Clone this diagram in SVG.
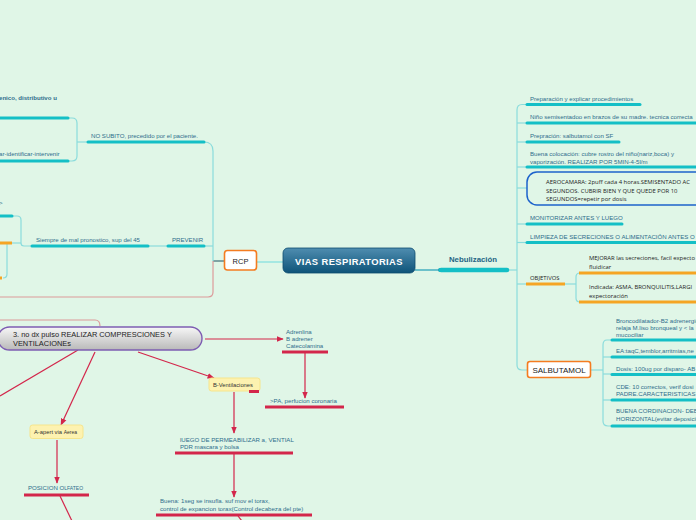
<svg xmlns="http://www.w3.org/2000/svg" width="696" height="520" viewBox="0 0 696 520">
<defs>
<linearGradient id="gCentral" x1="0" y1="0" x2="0" y2="1"><stop offset="0" stop-color="#4f8db0"/><stop offset="1" stop-color="#0e5479"/></linearGradient>
<linearGradient id="gPill" x1="0" y1="0" x2="0" y2="1"><stop offset="0" stop-color="#f7f7f7"/><stop offset="1" stop-color="#b9b9b9"/></linearGradient>
<marker id="arr" viewBox="0 0 10 10" refX="9" refY="5" markerWidth="6" markerHeight="6" orient="auto"><path d="M0,1 L10,5 L0,9 z" fill="#d3264b"/></marker>
<style>
.t{font-family:"Liberation Sans",Arial,sans-serif;font-size:6.1px;fill:#2f6d8c}
.tc{font-family:"Open Sans","Liberation Sans",sans-serif;font-size:5.9px;fill:#222}
.ul{stroke:#14bfc6;stroke-width:3;stroke-linecap:round;fill:none}
.uo{stroke:#f5a524;stroke-width:3;fill:none}
.ur{stroke:#d3264b;stroke-width:3;fill:none}
.c{stroke:#8adcdc;stroke-width:1.2;fill:none}
.cr{stroke:#d3264b;stroke-width:1.2;fill:none;marker-end:url(#arr)}
.crn{stroke:#d3264b;stroke-width:1.2;fill:none}
.cp{stroke:#dc9a9a;stroke-width:1.2;fill:none}
.yb{fill:#fdf2b0;stroke:#f6e58c;stroke-width:1}
</style>
</defs>
<rect x="0" y="0" width="696" height="520" fill="#e0f6e7"/>

<g id="connectors">
<line x1="257" y1="262" x2="283" y2="262" stroke="#a6e8e2" stroke-width="2"/>
<line x1="213" y1="261" x2="224" y2="261" stroke="#7fa3a3" stroke-width="2"/>
<path class="c" d="M204,142 Q213,142 213,151 V261"/>
<line class="c" x1="204" y1="246" x2="213" y2="246"/>
<path class="cp" d="M213,261 V292 Q213,297 208,297 H0"/>
<line class="c" x1="148" y1="246" x2="167" y2="246"/>
<path class="c" d="M31,246 H24 Q21,246 21,243 V220 Q21,216 17,216 H12"/>
<line class="c" x1="12" y1="243" x2="21" y2="243"/>
<path class="c" d="M7,243 V274 Q7,278 3,278"/>
<path class="c" d="M68,118 H72 Q77,118 77,123 V156 Q77,161 72,161 H68"/>
<line class="c" x1="77" y1="142" x2="87" y2="142"/>
<line x1="415" y1="270" x2="440" y2="270" stroke="#1f9fb8" stroke-width="1.2"/>
<circle cx="440" cy="270" r="2" fill="#1f9fb8"/>
<line class="c" x1="508" y1="270" x2="517" y2="270"/>
<path class="c" d="M526,104.5 H522 Q517,104.5 517,110 V365 Q517,370 522,370 H527"/>
<line class="c" x1="517" y1="123" x2="526" y2="123"/>
<line class="c" x1="517" y1="142" x2="526" y2="142"/>
<line class="c" x1="517" y1="167" x2="526" y2="167"/>
<line class="c" x1="517" y1="188" x2="527" y2="188"/>
<line class="c" x1="517" y1="224" x2="526" y2="224"/>
<line class="c" x1="517" y1="242.5" x2="526" y2="242.5"/>
<line class="c" x1="517" y1="284" x2="526" y2="284"/>
<line class="c" x1="565" y1="284" x2="576" y2="284"/>
<path class="c" d="M580,273 Q576,273 576,277 V298 Q576,302 580,302"/>
<line class="c" x1="591" y1="370" x2="603" y2="370"/>
<path class="c" d="M612,340 H607 Q603,340 603,345 V421 Q603,426 608,426 H612"/>
<line class="c" x1="603" y1="357" x2="612" y2="357"/>
<line class="c" x1="603" y1="374" x2="612" y2="374"/>
<line class="c" x1="603" y1="400" x2="612" y2="400"/>
<path class="cp" d="M0,320 H95 Q100,320 100,326"/>
<line class="cr" x1="205" y1="339" x2="283" y2="339"/>
<line class="cr" x1="305" y1="353" x2="305" y2="398"/>
<line class="cr" x1="138" y1="352" x2="214" y2="378"/>
<line class="cr" x1="234" y1="392" x2="234" y2="433"/>
<line class="cr" x1="234" y1="454" x2="234" y2="497"/>
<line class="crn" x1="238" y1="516" x2="242" y2="521"/>
<line class="cr" x1="95" y1="352" x2="61" y2="425"/>
<line class="cr" x1="57" y1="440" x2="57" y2="483"/>
<line class="crn" x1="60" y1="496" x2="72" y2="521"/>
<line class="crn" x1="78" y1="350" x2="0" y2="396"/>
</g>

<g id="central">
<rect x="283" y="248" width="132" height="25" rx="5" fill="url(#gCentral)" stroke="#0c4d70" stroke-width="0.8"/>
<text x="349" y="264.5" text-anchor="middle" font-family="Liberation Sans,Arial,sans-serif" font-weight="bold" font-size="9.4" fill="#fff" letter-spacing="0.4">VIAS RESPIRATORIAS</text>
</g>

<g id="rcp">
<rect x="224.5" y="250.5" width="32" height="19.5" rx="3" fill="#fff" stroke="#f47c20" stroke-width="1.6"/>
<text x="240.5" y="263.5" text-anchor="middle" font-family="Liberation Sans,Arial,sans-serif" font-size="7.5" fill="#222">RCP</text>
</g>

<g id="no-subito">
<text class="t" x="91" y="138">NO SUBITO, precedido por el paciente.</text>
<line class="ul" x1="88" y1="142" x2="204" y2="142"/>
</g>
<g id="cardiogenico">
<text class="t" x="-1" y="100" font-weight="bold" fill="#1f5676">enico, distributivo u</text>
<line class="ul" x1="-2" y1="118" x2="68" y2="118"/>
</g>
<g id="identificar">
<text class="t" x="-1" y="155.5">ar-identificar-intervenir</text>
<line class="ul" x1="-2" y1="161" x2="68" y2="161"/>
</g>
<g id="prevenir">
<text class="t" x="172" y="242">PREVENIR</text>
<line class="ul" x1="168" y1="246" x2="204" y2="246"/>
</g>
<g id="siempre">
<text class="t" x="36" y="242">Siempre de mal pronostico, sup del 45</text>
<line class="ul" x1="32" y1="246" x2="148" y2="246"/>
</g>
<g id="left-a">
<text class="t" x="-1" y="205">&gt;</text>
<line class="ul" x1="-2" y1="216" x2="12" y2="216"/>
</g>
<g id="left-b">
<line class="uo" x1="-2" y1="243" x2="12" y2="243"/>
</g>
<g id="left-c">
<line class="uo" x1="-2" y1="278" x2="2" y2="278"/>
</g>

<g id="nebulizacion">
<text x="473" y="262" text-anchor="middle" font-family="Liberation Sans,Arial,sans-serif" font-weight="bold" font-size="7.8" fill="#1d6584">Nebulización</text>
<line x1="441" y1="270" x2="507" y2="270" stroke="#14bfc6" stroke-width="4.5" stroke-linecap="round"/>
</g>
<g id="preparacion">
<text class="t" x="530" y="100.5">Preparación y explicar procedimientos</text>
<line class="ul" x1="527" y1="104.5" x2="640" y2="104.5"/>
</g>
<g id="nino">
<text class="t" x="530" y="119">Niño semisentadoo en brazos de su madre. tecnica correcta</text>
<line class="ul" x1="527" y1="123" x2="700" y2="123"/>
</g>
<g id="prepracion">
<text class="t" x="530" y="138">Prepración: salbutamol con SF</text>
<line class="ul" x1="527" y1="142" x2="619" y2="142"/>
</g>
<g id="colocacion">
<text class="t" x="530" y="156">Buena colocación: cubre rostro del niño(nariz,boca) y</text>
<text class="t" x="530" y="164">vaporización. REALIZAR POR 5MIN-4-5l/m</text>
<line class="ul" x1="527" y1="167" x2="700" y2="167"/>
</g>
<g id="aerocamara">
<rect x="527" y="172" width="190" height="33" rx="10" fill="none" stroke="#1d63cc" stroke-width="1.5"/>
<text class="tc" x="546" y="184">AEROCAMARA: 2puff cada 4 horas.SEMISENTADO AC</text>
<text class="tc" x="546" y="192.5">SEGUNDOS. CUBRIR BIEN Y QUE QUEDE POR 10</text>
<text class="tc" x="546" y="201">SEGUNDOS=repetir por dosis</text>
</g>
<g id="monitorizar">
<text class="t" x="530" y="220">MONITORIZAR ANTES Y LUEGO</text>
<line class="ul" x1="527" y1="224" x2="622" y2="224"/>
</g>
<g id="limpieza">
<text class="t" x="530" y="238.5">LIMPIEZA DE SECRECIONES O ALIMENTACIÓN ANTES O DPS</text>
<line class="ul" x1="527" y1="242.5" x2="700" y2="242.5"/>
</g>
<g id="objetivos">
<text class="tc" x="530" y="279.5">OBJETIVOS</text>
<line class="uo" x1="526" y1="284" x2="565" y2="284"/>
</g>
<g id="mejorar">
<text class="tc" x="589" y="260">MEJORAR las secreciones, facil expecto</text>
<text class="tc" x="589" y="269">fluidicar</text>
<line class="uo" x1="579" y1="273" x2="700" y2="273"/>
</g>
<g id="indicada">
<text class="tc" x="589" y="289">Indicada: ASMA, BRONQUILITIS,LARGI</text>
<text class="tc" x="589" y="297.5">expectoración</text>
<line class="uo" x1="579" y1="302" x2="700" y2="302"/>
</g>
<g id="salbutamol">
<rect x="527.5" y="361.5" width="63" height="16" rx="2.5" fill="#fff" stroke="#f47c20" stroke-width="1.6"/>
<text x="559" y="372.5" text-anchor="middle" font-family="Liberation Sans,Arial,sans-serif" font-size="8" fill="#222">SALBUTAMOL</text>
</g>
<g id="broncodilatador">
<text class="t" x="616" y="322.5">Broncodilatador-B2 adrenergic</text>
<text class="t" x="616" y="329.5">relaja M.liso bronqueal y &lt; la</text>
<text class="t" x="616" y="336.5">mucociliar</text>
<line class="ul" x1="612" y1="340" x2="700" y2="340"/>
</g>
<g id="ea">
<text class="t" x="616" y="353">EA:taqC,temblor,arritmias,ne</text>
<line class="ul" x1="612" y1="357" x2="700" y2="357"/>
</g>
<g id="dosis">
<text class="t" x="616" y="370.5">Dosis: 100ug por disparo- AB</text>
<line class="ul" x1="612" y1="374.5" x2="700" y2="374.5"/>
</g>
<g id="cde">
<text class="t" x="616" y="388.5">CDE: 10 correctos, verif dosi</text>
<text class="t" x="616" y="396">PADRE.CARACTERISTICAS D</text>
<line class="ul" x1="612" y1="400" x2="700" y2="400"/>
</g>
<g id="coordinacion">
<text class="t" x="616" y="413">BUENA CORDINACION- DEBE</text>
<text class="t" x="616" y="420.5">HORIZONTAL(evitar deposicio</text>
<line class="ul" x1="612" y1="426" x2="700" y2="426"/>
</g>

<g id="compresiones">
<rect x="-2" y="327" width="204" height="23" rx="11.5" fill="url(#gPill)" stroke="#7d5db2" stroke-width="1.4"/>
<text x="13" y="337" font-family="Liberation Sans,Arial,sans-serif" font-size="7.4" fill="#222">3. no dx pulso REALIZAR COMPRESCIONES Y</text>
<text x="13" y="346" font-family="Liberation Sans,Arial,sans-serif" font-size="7.4" fill="#222">VENTILACIONEs</text>
</g>
<g id="adrenalina">
<text class="t" x="286" y="334">Adrenlina</text>
<text class="t" x="286" y="341">B adrener</text>
<text class="t" x="286" y="348">Catecolamina</text>
<line class="ur" x1="282" y1="352" x2="328" y2="352"/>
</g>
<g id="perfusion">
<text class="t" x="270" y="403">&gt;PA, perfucion coronaria</text>
<line class="ur" x1="265" y1="407" x2="344" y2="407"/>
</g>
<g id="b-ventilaciones">
<rect class="yb" x="209" y="378" width="51" height="13" rx="2.5"/>
<text x="213" y="386.5" font-family="Liberation Sans,Arial,sans-serif" font-size="5.8" fill="#333">B-Ventilaciones</text>
<line class="ur" x1="249" y1="391.5" x2="259" y2="391.5"/>
</g>
<g id="permeabilizar">
<text class="t" x="180" y="442">lUEGO DE PERMEABILIZAR a, VENTIAL</text>
<text class="t" x="180" y="449">PDR  mascara y bolsa</text>
<line class="ur" x1="175" y1="453" x2="293" y2="453"/>
</g>
<g id="buena">
<text class="t" x="160" y="503">Buena: 1seg se insufla. suf mov el torax,</text>
<text class="t" x="160" y="510.5">control de expancion torax(Control decabeza del pte)</text>
<line class="ur" x1="156" y1="515" x2="312" y2="515"/>
</g>
<g id="a-apertura">
<rect class="yb" x="30" y="425" width="53" height="13.5" rx="2.5"/>
<text x="34" y="433.5" font-family="Liberation Sans,Arial,sans-serif" font-size="5.8" fill="#333">A-apert via <tspan font-size="5">Aerea</tspan></text>
</g>
<g id="posicion">
<text class="t" x="28" y="490">POSICION O<tspan font-size="5">LFATEO</tspan></text>
<line class="ur" x1="24" y1="495" x2="89" y2="495"/>
</g>
</svg>
